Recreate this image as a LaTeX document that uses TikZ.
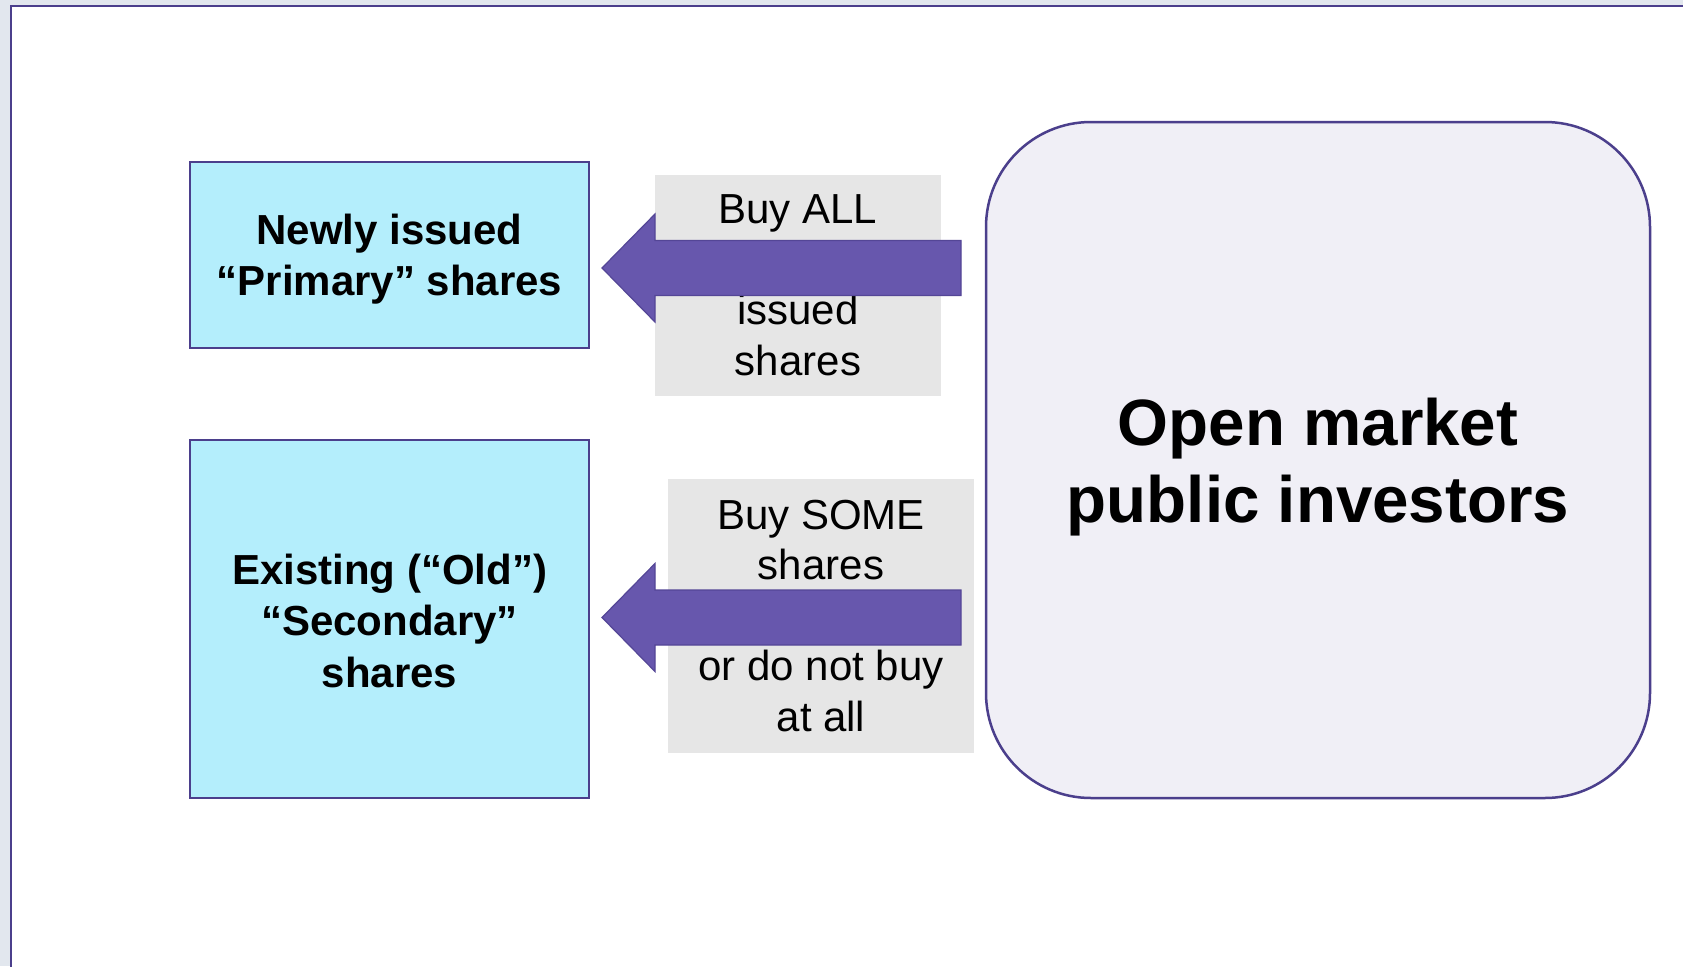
\documentclass[tikz,border=0pt]{standalone}
\usepackage{fontspec}
\setmainfont{Liberation Sans}
\usetikzlibrary{calc}

\definecolor{frameC}{RGB}{75,63,140}
\definecolor{backC}{RGB}{226,231,238}
\definecolor{shareFill}{RGB}{180,238,252}
\definecolor{marketFill}{RGB}{240,239,246}
\definecolor{noteFill}{RGB}{230,230,230}
\definecolor{arrowFill}{RGB}{103,87,173}
\definecolor{arrowLine}{RGB}{84,70,150}

% wide block arrow from a tail point to a tip point (same height)
\newcommand\blockarrow[2]{%
  \path[arrowbody]
    ($(#1)+(0,-27.5)$) -- ($(#2)+(53,-27.5)$) -- ($(#2)+(53,-54)$) --
    (#2) -- ($(#2)+(53,54)$) -- ($(#2)+(53,27.5)$) -- ($(#1)+(0,27.5)$) -- cycle;}

\begin{document}
\begin{tikzpicture}[x=1pt,y=-1pt,
  sharebox/.style={draw=frameC, line width=2, fill=shareFill, inner sep=0},
  sharetext/.style={inner sep=0, align=center,
    font=\fontsize{42}{51.5}\selectfont\bfseries},
  notebox/.style={fill=noteFill, inner sep=0, align=center,
    font=\fontsize{42}{50.5}\selectfont},
  marketbox/.style={draw=frameC, line width=2.5, fill=marketFill, inner sep=0,
    rounded corners=105},
  markettext/.style={inner sep=0, align=center,
    font=\fontsize{65.5}{77}\selectfont\bfseries},
  arrowbody/.style={fill=arrowFill, draw=arrowLine, line width=1.2, line join=miter}]

\useasboundingbox (0,0) rectangle (1683,966);
\clip (0,0) rectangle (1683,966);

% slide backdrop and frame
\fill[backC] (0,0) rectangle (1683,966);
\fill[white] (11,6) rectangle (1700,980);
\draw[frameC, line width=2.8] (11,980) -- (11,6) -- (1700,6);

% share boxes
\node[sharebox, minimum width=399, minimum height=186] (primary) at (389.5,255) {};
\node[sharetext] (primaryText) at ($(primary.center)+(0,4)$)
  {Newly issued\\“Primary” shares};
\node[sharebox, minimum width=399, minimum height=358] (secondary) at (389.5,619) {};
\node[sharetext] (secondaryText) at ($(secondary.center)+(0,1.5)$)
  {Existing (“Old”)\\“Secondary”\\shares};

% investors
\node[marketbox, minimum width=664, minimum height=676] (market) at (1318,460) {};
\node[markettext] (marketText) at ($(market.center)+(0,7)$)
  {Open market\\public investors};

% notes behind the arrows
\node[notebox, minimum width=286, minimum height=221] (noteAll) at (798,285.5)
  {Buy ALL\\\mbox{}\\issued\\shares};
\node[notebox, minimum width=306, minimum height=274] (noteSome) at (821,616)
  {Buy SOME\\shares\\\mbox{}\\or do not buy\\at all};

% arrows from investors to share boxes
\coordinate (tailA) at (961,268);
\coordinate (tipA) at ($(primary.east)+(12,13)$);
\coordinate (tailB) at (961,617.5);
\coordinate (tipB) at ($(secondary.east)+(12,-1.5)$);
\blockarrow{tailA}{tipA}
\blockarrow{tailB}{tipB}

\end{tikzpicture}
\end{document}
